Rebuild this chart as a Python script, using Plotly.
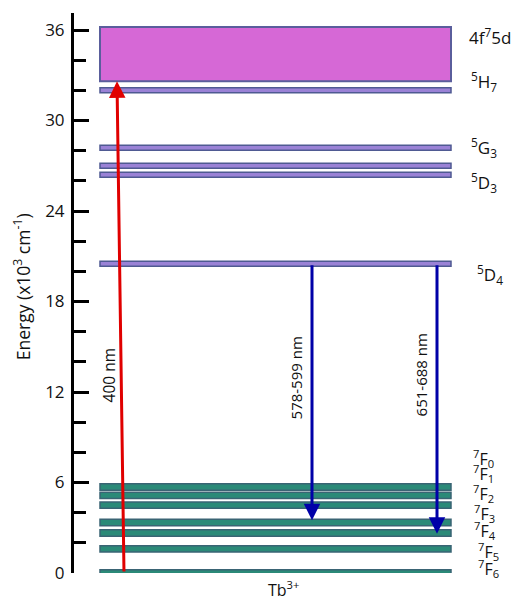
import plotly.graph_objects as go

# ---- data (energies in 10^3 cm^-1) ----
band_4f5d = [32.6, 36.2]
upper_levels = [32.0, 28.2, 27.0, 26.4, 20.5]
ground_levels = [0.0, 1.6, 2.65, 3.35, 4.5, 5.15, 5.7]

excitation = {"label": "400 nm", "from": 0.0, "to": 32.6}
emissions_labels = ["578-599 nm", "651-688 nm"]
emissions_from = [20.5, 20.5]
emissions_to = [3.5, 2.6]

level_labels = ["4f<sup>7</sup>5d", "<sup>5</sup>H<sub>7</sub>", "<sup>5</sup>G<sub>3</sub>",
                "<sup>5</sup>D<sub>3</sub>", "<sup>5</sup>D<sub>4</sub>"]
level_label_y = [35.6, 32.6, 28.2, 25.9, 19.8]
f_labels = ["<sup>7</sup>F<sub>%d</sub>" % j for j in range(7)]
f_label_y = [7.6, 6.6, 5.25, 3.95, 2.8, 1.45, 0.3]

yticks = [0, 6, 12, 18, 24, 30, 36]

FONT = "Open Sans"
TXT = "#111111"
fig = go.Figure()

XL, XR = 100, 451
shapes = []
# 4f5d band
shapes.append(dict(type="rect", xref="x", yref="y", x0=XL, x1=XR,
                   y0=band_4f5d[0], y1=band_4f5d[1],
                   fillcolor="#D668D6", line=dict(color="#5A5E9C", width=2)))
for e in upper_levels:
    shapes.append(dict(type="rect", xref="x", yref="y", x0=XL, x1=XR,
                       ysizemode="pixel", yanchor=e, y0=-2.5, y1=2.5,
                       fillcolor="#9A82D6", line=dict(color="#4F5A92", width=1.5)))
for e in ground_levels:
    shapes.append(dict(type="rect", xref="x", yref="y", x0=XL, x1=XR,
                       ysizemode="pixel", yanchor=e, y0=-3.2, y1=3.2,
                       fillcolor="#2B8A78", line=dict(color="#3A6474", width=1.5)))

annotations = []
# excitation arrow (red)
annotations.append(dict(x=117, y=excitation["to"], ax=124, ay=excitation["from"],
                        xref="x", yref="y", axref="x", ayref="y", text="",
                        showarrow=True, arrowhead=2, arrowsize=1.1, arrowwidth=3,
                        arrowcolor="#E00000"))
annotations.append(dict(x=109, y=13.1, xref="x", yref="y", text=excitation["label"],
                        textangle=-90, showarrow=False,
                        font=dict(family=FONT, size=15.5, color=TXT)))
em_x = [312, 437]
em_lab_x = [296, 421]
em_lab_y = [12.9, 13.1]
for i in range(2):
    annotations.append(dict(x=em_x[i], y=emissions_to[i], ax=em_x[i], ay=emissions_from[i],
                            xref="x", yref="y", axref="x", ayref="y", text="",
                            showarrow=True, arrowhead=2, arrowsize=1.1, arrowwidth=3,
                            arrowcolor="#0000A8"))
    annotations.append(dict(x=em_lab_x[i], y=em_lab_y[i], xref="x", yref="y",
                            text=emissions_labels[i], textangle=-90, showarrow=False,
                            font=dict(family=FONT, size=15, color=TXT)))
lab_x = [467, 469, 469, 469, 475]
for t, y, x in zip(level_labels, level_label_y, lab_x):
    annotations.append(dict(x=x, y=y, xref="x", yref="y", text=t, showarrow=False,
                            xanchor="left", font=dict(family=FONT, size=17, color=TXT)))
f_x = [471, 471, 471, 472, 472, 476, 476]
for t, y, x in zip(f_labels, f_label_y, f_x):
    annotations.append(dict(x=x, y=y, xref="x", yref="y", text=t, showarrow=False,
                            xanchor="left", font=dict(family=FONT, size=16, color=TXT)))
annotations.append(dict(x=283, y=-0.028, xref="x", yref="paper", text="Tb<sup>3+</sup>",
                        xanchor="center", yanchor="middle",
                        showarrow=False, font=dict(family=FONT, size=16, color=TXT)))
annotations.append(dict(x=-0.118, y=19.0, xref="paper", yref="y",
                        xanchor="center", yanchor="middle",
                        text="Energy (x10<sup>3</sup> cm<sup>-1</sup>)", textangle=-90,
                        showarrow=False, font=dict(family=FONT, size=17.5, color=TXT)))

fig.update_layout(
    width=516, height=600,
    margin=dict(l=74, r=0, t=13, b=27),
    plot_bgcolor="white", paper_bgcolor="white",
    showlegend=False, shapes=shapes, annotations=annotations,
    xaxis=dict(range=[74, 516], visible=False, fixedrange=True),
    yaxis=dict(range=[0, 37.13], tickvals=yticks, ticks="inside", ticklen=15, tickwidth=3,
               tickcolor="black", showline=True, linewidth=3, linecolor="black",
               showgrid=False, zeroline=False, ticklabelstandoff=3,
               tickfont=dict(family=FONT, size=17, color=TXT),
               minor=dict(tickvals=[2, 4, 8, 10, 14, 16, 20, 22, 26, 28, 32, 34],
                          ticks="inside", ticklen=12, tickwidth=3, tickcolor="black")),
)

fig.write_html("out.html")
